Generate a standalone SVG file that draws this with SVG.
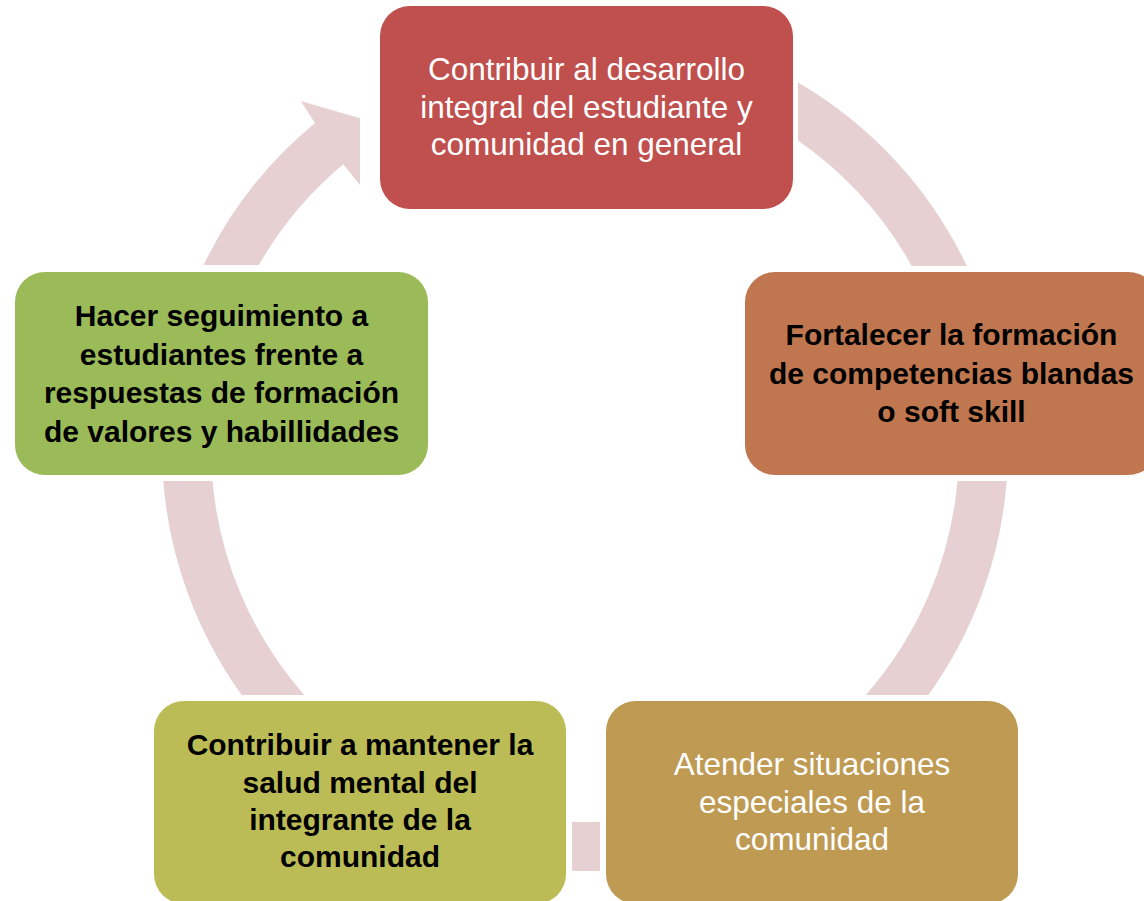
<svg xmlns="http://www.w3.org/2000/svg" width="1144" height="901" viewBox="0 0 1144 901">
<style>
.ring{fill:#E7D0D1;stroke:none}
.box{stroke:none}
.t{font-family:"Liberation Sans",Arial,sans-serif;text-anchor:middle}
.w{fill:#FFFFFF;font-size:31.5px;font-weight:normal}
.b{fill:#000000;font-size:30px;font-weight:bold}
</style>
<rect width="1144" height="901" fill="#FFFFFF"/>
<g id="connectors">
<path class="ring" d="M203.6,265 A423,423 0 0 1 315,123 L300.7,101 L360,118.3 L360,185 L343.3,164.3 A374,374 0 0 0 258.8,265 Z"/>
<path class="ring" d="M798,82.5 A423,423 0 0 1 966.8,266 L911.7,266 A374,374 0 0 0 798,140.6 Z"/>
<path class="ring" d="M1006.7,481 A423,423 0 0 1 928.4,695 L865.8,695 A374,374 0 0 0 957.5,481 Z"/>
<path class="ring" d="M600,821.7 L600,870.7 A423,423 0 0 1 572,870.8 L572,821.8 A374,374 0 0 0 600,821.7 Z"/>
<path class="ring" d="M241.6,695 A423,423 0 0 1 163.3,481 L212.5,481 A374,374 0 0 0 304.2,695 Z"/>
</g>
<g id="node-top">
<rect class="box" x="380" y="6" width="413" height="203" rx="30" ry="30" fill="#C0504D"/>
<text class="t w"><tspan x="586.5" y="80">Contribuir al desarrollo</tspan><tspan x="586.5" y="117.5">integral del estudiante y</tspan><tspan x="586.5" y="155">comunidad en general</tspan></text>
</g>
<g id="node-right">
<rect class="box" x="745" y="272" width="413" height="203" rx="30" ry="30" fill="#C0774F"/>
<text class="t b"><tspan x="951.5" y="345">Fortalecer la formación</tspan><tspan x="951.5" y="383.5">de competencias blandas</tspan><tspan x="951.5" y="422">o soft skill</tspan></text>
</g>
<g id="node-bottom-right">
<rect class="box" x="606" y="701" width="412" height="203" rx="30" ry="30" fill="#BE9A53"/>
<text class="t w"><tspan x="812" y="775">Atender situaciones</tspan><tspan x="812" y="812.5">especiales de la</tspan><tspan x="812" y="850">comunidad</tspan></text>
</g>
<g id="node-bottom-left">
<rect class="box" x="154" y="701" width="412" height="203" rx="30" ry="30" fill="#BCBC56"/>
<text class="t b"><tspan x="360" y="755">Contribuir a mantener la</tspan><tspan x="360" y="792.5">salud mental del</tspan><tspan x="360" y="830">integrante de la</tspan><tspan x="360" y="867">comunidad</tspan></text>
</g>
<g id="node-left">
<rect class="box" x="15" y="272" width="413" height="203" rx="30" ry="30" fill="#9BBB59"/>
<text class="t b"><tspan x="221.5" y="326">Hacer seguimiento a</tspan><tspan x="221.5" y="364.5">estudiantes frente a</tspan><tspan x="221.5" y="403">respuestas de formación</tspan><tspan x="221.5" y="441.5">de valores y habillidades</tspan></text>
</g>
</svg>
